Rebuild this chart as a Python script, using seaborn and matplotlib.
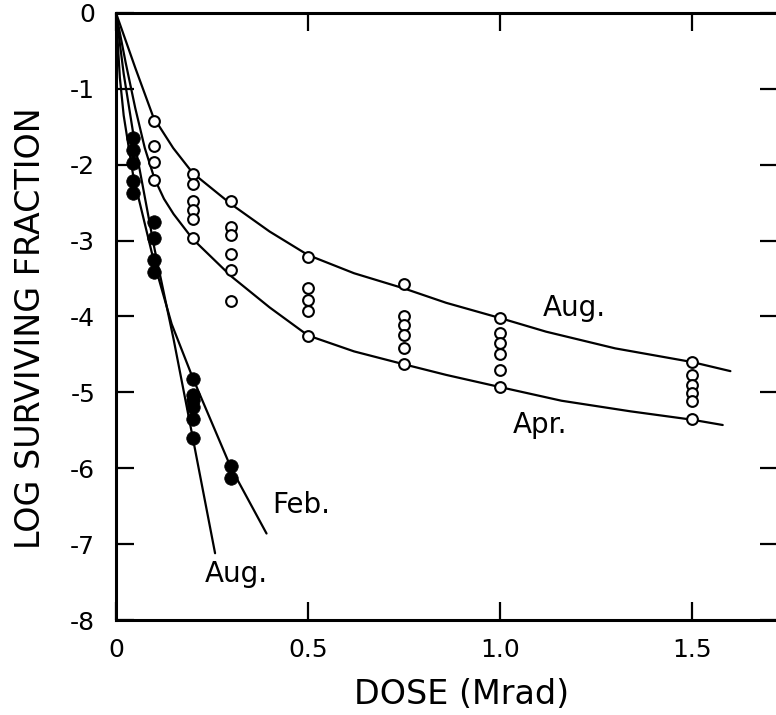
import matplotlib
matplotlib.use("Agg")
import matplotlib.pyplot as plt
import seaborn as sns
import pandas as pd

# ---- data ----
open_dose = [0.1]*4 + [0.2]*6 + [0.3]*6 + [0.5]*5 + [0.75]*6 + [1.0]*6 + [1.5]*6
open_logsf = [-1.42, -1.75, -1.97, -2.2,
              -2.12, -2.26, -2.48, -2.6, -2.71, -2.97,
              -2.48, -2.82, -2.93, -3.17, -3.39, -3.8,
              -3.21, -3.63, -3.78, -3.93, -4.26,
              -3.57, -3.99, -4.11, -4.24, -4.41, -4.63,
              -4.02, -4.22, -4.35, -4.5, -4.7, -4.93,
              -4.6, -4.77, -4.9, -5.01, -5.12, -5.35]

filled_dose = [0.045]*5 + [0.1]*4 + [0.2]*6 + [0.3]*2
filled_logsf = [-1.65, -1.8, -1.98, -2.22, -2.37,
                -2.75, -2.97, -3.26, -3.41,
                -4.83, -5.03, -5.1, -5.19, -5.35, -5.6,
                -5.97, -6.13]

# fitted curves
aug_open_x = [0, 0.05, 0.097, 0.149, 0.2, 0.3, 0.4, 0.5, 0.62, 0.75, 0.86, 1.0, 1.12, 1.3, 1.5, 1.6]
aug_open_y = [0, -0.72, -1.37, -1.78, -2.11, -2.52, -2.88, -3.19, -3.43, -3.63, -3.82, -4.02, -4.2, -4.42, -4.6, -4.72]

apr_x = [0, 0.025, 0.05, 0.075, 0.1, 0.125, 0.15, 0.2, 0.3, 0.4, 0.5, 0.62, 0.75, 0.86, 1.0, 1.16, 1.34, 1.5, 1.58]
apr_y = [0, -0.65, -1.25, -1.78, -2.18, -2.45, -2.65, -2.98, -3.47, -3.88, -4.25, -4.46, -4.63, -4.77, -4.93, -5.11, -5.25, -5.36, -5.43]

feb_x = [0, 0.01, 0.02, 0.045, 0.1, 0.145, 0.2, 0.3, 0.392]
feb_y = [0, -0.85, -1.35, -2.15, -3.3, -4.1, -4.81, -6.0, -6.86]

aug_filled_x = [0, 0.02, 0.05, 0.1, 0.15, 0.2, 0.258]
aug_filled_y = [0, -0.8, -1.75, -3.1, -4.3, -5.6, -7.12]

x_ticks = [0, 0.5, 1.0, 1.5]
x_tick_labels = ["0", "0.5", "1.0", "1.5"]
y_ticks = [0, -1, -2, -3, -4, -5, -6, -7, -8]
y_tick_labels = ["0", "-1", "-2", "-3", "-4", "-5", "-6", "-7", "-8"]

curve_labels = ["Aug.", "Apr.", "Feb.", "Aug."]
curve_label_x = [1.112, 1.034, 0.406, 0.232]
curve_label_y = [-4.0, -5.54, -6.59, -7.5]

# ---- drawing ----
sns.set_style("ticks")
plt.rcParams['font.family'] = ['DejaVu Sans']
plt.rcParams['text.color'] = 'black'
plt.rcParams['axes.labelcolor'] = 'black'

fig = plt.figure(figsize=(7.76, 7.15), dpi=100)
ax = fig.add_axes([116/776, 1-620/715, (778-116)/776, (620-13)/715])

lw = 1.6
for cx, cy in [(aug_open_x, aug_open_y), (apr_x, apr_y), (feb_x, feb_y), (aug_filled_x, aug_filled_y)]:
    sns.lineplot(x=cx, y=cy, ax=ax, color="black", lw=lw, sort=False, estimator=None)

df_open = pd.DataFrame({"dose": open_dose, "logsf": open_logsf})
df_filled = pd.DataFrame({"dose": filled_dose, "logsf": filled_logsf})
sns.scatterplot(data=df_filled, x="dose", y="logsf", ax=ax, marker="o", s=95,
                color="black", edgecolor="black", linewidth=0.5, zorder=4)
sns.scatterplot(data=df_open, x="dose", y="logsf", ax=ax, marker="o", s=60,
                facecolor="white", edgecolor="black", linewidth=1.5, zorder=5)

for t, tx, ty in zip(curve_labels, curve_label_x, curve_label_y):
    ax.text(tx, ty, t, fontsize=20, ha="left", va="baseline", color="black")

ax.set_xlim(0, (778-116)/384)
ax.set_ylim(-8, 0)
ax.set_xticks(x_ticks)
ax.set_xticklabels(x_tick_labels)
ax.set_yticks(y_ticks)
ax.set_yticklabels(y_tick_labels)
ax.tick_params(axis="both", direction="in", length=13, width=1.6, labelsize=18, colors="black",
               top=True, right=True)
ax.tick_params(axis="y", pad=15)
ax.tick_params(axis="x", pad=13)
for s in ax.spines.values():
    s.set_linewidth(2.2)
    s.set_color("black")

ax.set_xlabel("DOSE (Mrad)", fontsize=24, color="black")
ax.set_ylabel("LOG SURVIVING FRACTION", fontsize=24, color="black")
ax.xaxis.label.set_va("center")
ax.yaxis.label.set_va("center")
ax.xaxis.set_label_coords((462-116)/662, (620-695)/607)
ax.yaxis.set_label_coords((31-116)/662, (620-328)/607)

fig.savefig("out.png", dpi=100)
